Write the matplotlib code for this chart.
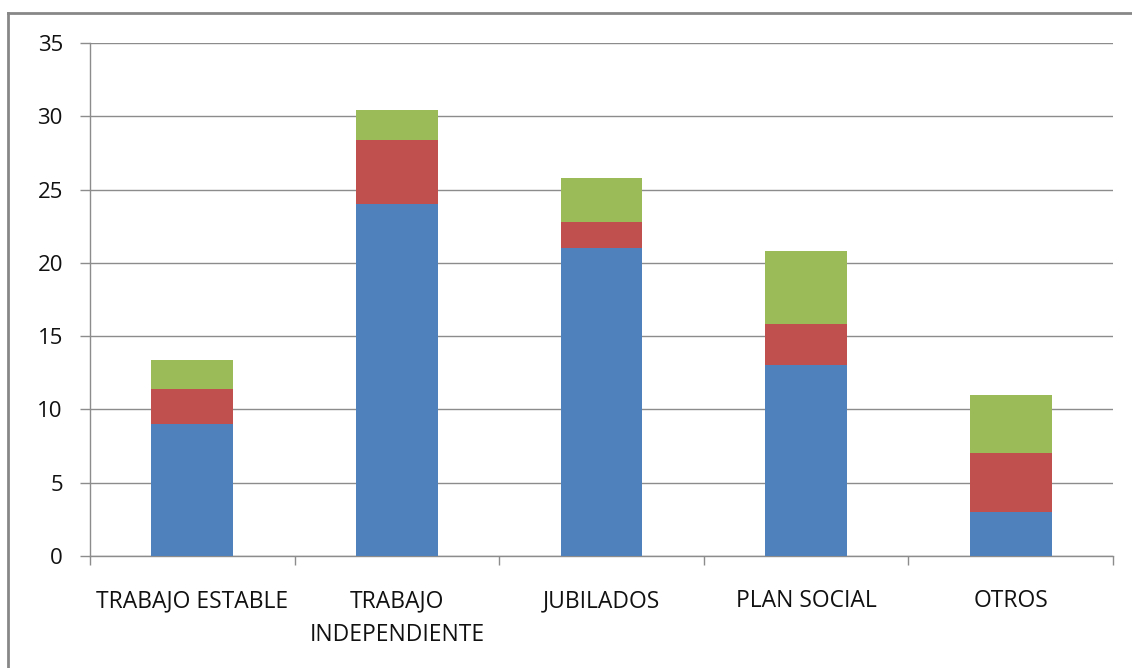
import matplotlib
matplotlib.use("Agg")
import matplotlib.pyplot as plt
from matplotlib.lines import Line2D
import numpy as np

categories = ["TRABAJO ESTABLE", "TRABAJO\nINDEPENDIENTE", "JUBILADOS", "PLAN SOCIAL", "OTROS"]
serie1 = [9, 24, 21, 13, 3]
serie2 = [2.4, 4.4, 1.8, 2.8, 4]
serie3 = [2.0, 2.0, 3.0, 5.0, 4]
yticks = [0, 5, 10, 15, 20, 25, 30, 35]

colors = ["#4F81BD", "#C0504D", "#9BBB59"]
grid_c = "#8C8C8C"

plt.rcParams['font.family'] = ['Open Sans', 'DejaVu Sans']

fig = plt.figure(figsize=(11.32, 6.68), dpi=100)
ax = fig.add_axes([90/1132, (668-556)/668, (1113-90)/1132, (556-43)/668])

x = np.arange(len(categories))
s1 = np.array(serie1); s2 = np.array(serie2); s3 = np.array(serie3)
ax.bar(x, s1, width=0.4, color=colors[0], zorder=3)
ax.bar(x, s2, width=0.4, bottom=s1, color=colors[1], zorder=3)
ax.bar(x, s3, width=0.4, bottom=s1 + s2, color=colors[2], zorder=3)

ax.set_xlim(-0.5, len(categories) - 0.5)
ax.set_ylim(0, 35)
ax.set_yticks(yticks)
ax.set_yticklabels([str(v) for v in yticks], fontsize=16, color="#111111")
ax.yaxis.grid(True, color=grid_c, linewidth=1.0, zorder=0)
ax.tick_params(axis='y', length=7.5, width=1.0, color=grid_c, pad=12)

ax.set_xticks(x)
ax.set_xticklabels(categories, fontsize=16.5, color="#111111", linespacing=1.55)
ax.tick_params(axis='x', which='major', length=0, pad=24)
ax.set_xticks(np.arange(len(categories) + 1) - 0.5, minor=True)
ax.tick_params(axis='x', which='minor', length=6.5, width=1.0, color=grid_c)

for side in ['top', 'right']:
    ax.spines[side].set_visible(False)
for side in ['left', 'bottom']:
    ax.spines[side].set_color(grid_c)
    ax.spines[side].set_linewidth(1.0)

# outer chart border (left and top visible)
fig.add_artist(Line2D([8/1132, 8/1132], [0, 1 - 13/668], transform=fig.transFigure, color="#878787", lw=2))
fig.add_artist(Line2D([8/1132, 1], [1 - 13/668, 1 - 13/668], transform=fig.transFigure, color="#878787", lw=2))

fig.savefig("out.png", dpi=100, facecolor="white")
